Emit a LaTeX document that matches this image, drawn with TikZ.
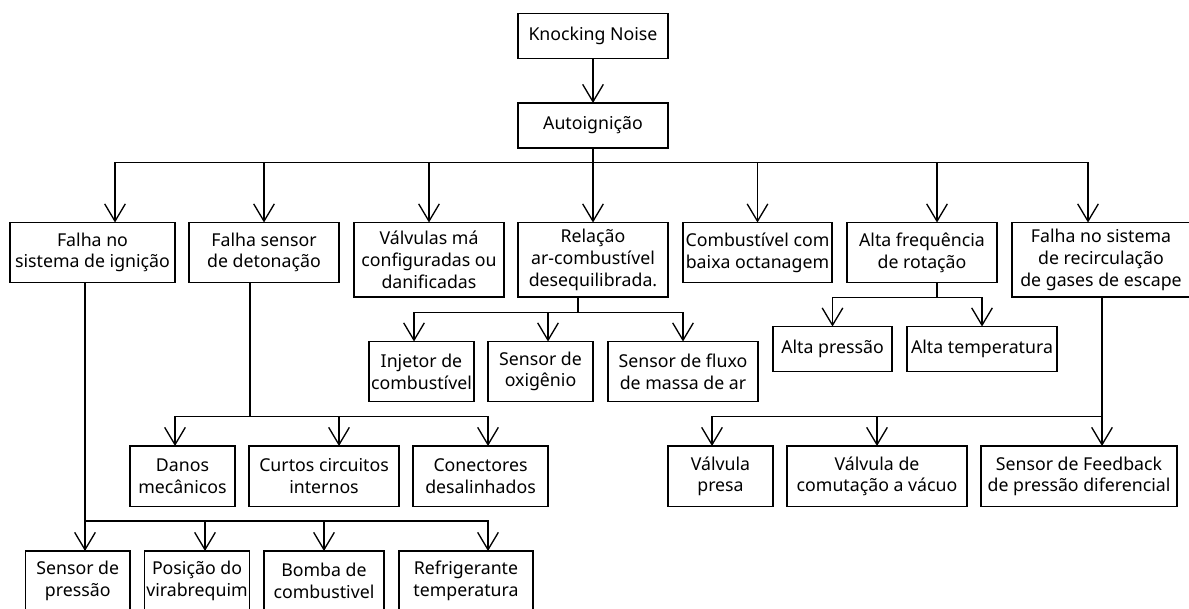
\documentclass[tikz,border=0pt]{standalone}
\usepackage{fontspec}
\setmainfont{Noto Sans}
\usetikzlibrary{arrows.meta,calc}

% box given by its top-left and bottom-right corners (pixel units)
\newcommand{\boxat}[6]{%
  \node[box, anchor=north west,
        minimum width={(#4-#2)*0.75pt},
        minimum height={(#5-#3)*0.75pt}] (#1) at (#2,#3) {#6};}

\begin{document}
\begin{tikzpicture}[x=0.75pt,y=-0.75pt,
  box/.style={draw, line width=1pt, inner sep=0pt, outer sep=0pt, align=center,
              font=\fontsize{13.3pt}{16.3pt}\selectfont},
  link/.style={line width=1pt},
  arr/.style={line width=1pt, -{Straight Barb[length=13pt,width=15.5pt,line width=1pt]}}]

\useasboundingbox (0,0) rectangle (1189,608);
\clip (0,0) rectangle (1189,608);

% top chain
\boxat{k}{518}{13.5}{668}{58.5}{Knocking Noise}
\boxat{a}{518}{103}{668}{148}{Autoignição}

% first level of causes
\boxat{f1}{10}{222.5}{175}{282.5}{Falha no\\sistema de ignição}
\boxat{f2}{189}{222.5}{339}{282.5}{Falha sensor\\de detonação}
\boxat{f3}{354}{222.5}{504}{297}{Válvulas má\\configuradas ou\\danificadas}
\boxat{f4}{518}{222.5}{668}{297}{Relação\\ar-combustível\\desequilibrada.}
\boxat{f5}{683}{222.5}{832}{282.5}{Combustível com\\baixa octanagem}
\boxat{f6}{847}{222.5}{997}{282.5}{Alta frequência\\de rotação}
\boxat{f7}{1012}{222.5}{1190}{297}{Falha no sistema\\de recirculação\\de gases de escape}

% causes of the air-fuel imbalance
\boxat{r1}{369}{341.5}{474}{401.5}{Injetor de\\combustível}
\boxat{r2}{488}{341.5}{593}{401.5}{Sensor de\\oxigênio}
\boxat{r3}{608}{341.5}{758}{401.5}{Sensor de fluxo\\de massa de ar}

% consequences of high rotation
\boxat{h1}{773}{326.5}{892}{371.5}{Alta pressão}
\boxat{h2}{907}{326.5}{1057}{371.5}{Alta temperatura}

% exhaust gas recirculation failures
\boxat{g1}{668}{446}{773}{506.5}{Válvula\\presa}
\boxat{g2}{787}{446}{967}{506.5}{Válvula de\\comutação a vácuo}
\boxat{g3}{981}{446}{1177}{506.5}{Sensor de Feedback\\de pressão diferencial}

% knock sensor failures
\boxat{d1}{130}{446}{235}{506.5}{Danos\\mecânicos}
\boxat{d2}{249}{446}{399}{506.5}{Curtos circuitos\\internos}
\boxat{d3}{413}{446}{548}{506.5}{Conectores\\desalinhados}

% ignition system failures
\boxat{i1}{25.5}{551}{130}{611}{Sensor de\\pressão}
\boxat{i2}{144.5}{551}{249.5}{611}{Posição do\\virabrequim}
\boxat{i3}{264}{551}{384}{611}{Bomba de\\combustivel}
\boxat{i4}{399}{551}{533}{611}{Refrigerante\\temperatura}

% connectors
\draw[arr] (k.south) -- (a.north);

\draw[link] (a.south) -- ++(0,14.7) coordinate (hub);
\draw[arr] (hub) -| ($(f1.north)+(22.5,0)$);
\draw[arr] (hub) -| (f2.north);
\draw[arr] (hub) -| (f3.north);
\draw[arr] (hub) -- (f4.north);
\draw[arr] (hub) -| (f5.north);
\draw[arr] (hub) -| ($(f6.north)+(15,0)$);
\draw[arr] (hub) -| ($(f7.north)+(-13,0)$);

\draw[link] ($(f4.south)+(-15,0)$) -- ++(0,15.3) coordinate (rhub);
\draw[arr] (rhub) -| ($(r1.north)+(-7.5,0)$);
\draw[arr] (rhub) -| ($(r2.north)+(7.5,0)$);
\draw[arr] (rhub) -| (r3.north);

\draw[link] ($(f6.south)+(15,0)$) -- ++(0,15.2) coordinate (hhub);
\draw[arr] (hhub) -| (h1.north);
\draw[arr] (hhub) -| (h2.north);

\draw[link] ($(f7.south)+(1,0)$) -- ++(0,119.7) coordinate (ghub);
\draw[arr] (ghub) -| ($(g1.north)+(-8.5,0)$);
\draw[arr] (ghub) -| (g2.north);
\draw[arr] (ghub) -| ($(g3.north)+(23,0)$);

\draw[link] ($(f2.south)+(-14,0)$) -- ++(0,134.2) coordinate (dhub);
\draw[arr] (dhub) -| ($(d1.north)+(-7.5,0)$);
\draw[arr] (dhub) -| ($(d2.north)+(15,0)$);
\draw[arr] (dhub) -| ($(d3.north)+(7.5,0)$);

\draw[link] ($(f1.south)+(-7.5,0)$) -- ++(0,238.5) coordinate (ihub);
\draw[arr] (ihub) -| ($(i1.north)+(7.25,0)$);
\draw[arr] (ihub) -| ($(i2.north)+(8,0)$);
\draw[arr] (ihub) -| (i3.north);
\draw[arr] (ihub) -| ($(i4.north)+(22,0)$);
\end{tikzpicture}
\end{document}
